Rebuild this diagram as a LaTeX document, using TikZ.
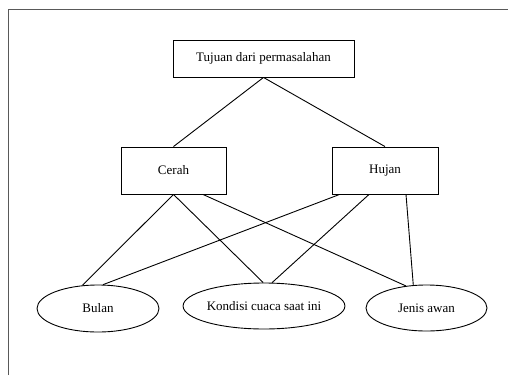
\documentclass[tikz,border=0pt]{standalone}
\usepackage{fontspec}
\setmainfont{Liberation Serif}
\usetikzlibrary{shapes.geometric}
\begin{document}
\begin{tikzpicture}[x=1pt,y=-1pt,
  boxnode/.style={draw,rectangle,inner sep=0pt,line width=0.9pt,font=\fontsize{13}{15}\selectfont},
  ellnode/.style={draw,ellipse,inner sep=0pt,line width=0.9pt,font=\fontsize{13}{15}\selectfont},
  conn/.style={line width=0.9pt}]
\useasboundingbox (0,0) rectangle (508,375);
\draw[black!65,line width=1pt] (8,375) -- (8,9.5) -- (508,9.5);
\node[boxnode,minimum width=181pt,minimum height=37pt] (top) at (263.5,58.5) {Tujuan dari permasalahan};
\node[boxnode,minimum width=105pt,minimum height=47pt] (cerah) at (173.5,170.5) {Cerah};
\node[boxnode,minimum width=106pt,minimum height=47pt] (hujan) at (385,170.5) {Hujan};
\node[ellnode,minimum width=122pt,minimum height=47pt] (bulan) at (98,308.5) {Bulan};
\node[ellnode,minimum width=122pt,minimum height=46pt] (kondisi) at (264,306) {Kondisi cuaca saat ini};
\node[ellnode,minimum width=121pt,minimum height=46pt] (jenis) at (426.5,308) {Jenis awan};
\draw[conn] (top.south) -- (cerah.north);
\draw[conn] (top.south) -- (hujan.north);
\draw[conn] (cerah.south) -- (bulan.124);
\draw[conn] (cerah.south) -- (kondisi.92);
\draw[conn] ([xshift=29.5pt]cerah.south) -- (jenis.133);
\draw[conn] ([xshift=8pt]hujan.south west) -- (bulan.78);
\draw[conn] ([xshift=-16pt]hujan.south) -- (kondisi.71);
\draw[conn] ([xshift=21pt]hujan.south) -- (jenis.120);
\end{tikzpicture}
\end{document}
